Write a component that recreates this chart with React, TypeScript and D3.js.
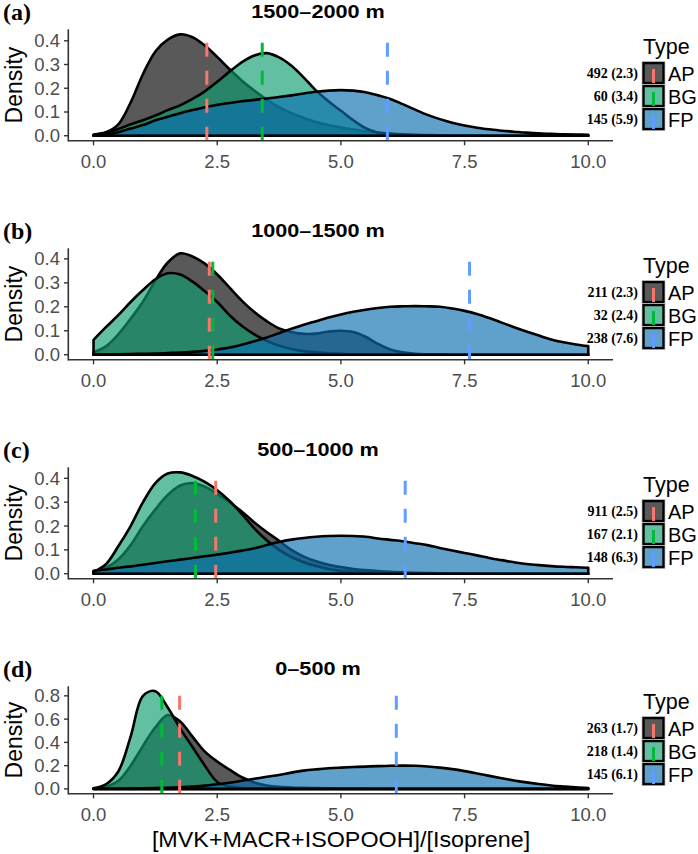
import React from 'react';
import * as d3 from 'd3';

// ---------- data ----------
const X_GRID = [
  0, 0.25, 0.5, 0.75, 1, 1.25, 1.5, 1.75, 2, 2.25, 2.5, 2.75, 3, 3.25, 3.5, 3.75, 4, 4.25, 4.5, 4.75,
  5, 5.25, 5.5, 5.75, 6, 6.25, 6.5, 6.75, 7, 7.25, 7.5, 7.75, 8, 8.25, 8.5, 8.75, 9, 9.25, 9.5, 9.75, 10,
];

const TYPES = ['AP', 'BG', 'FP'];
const PANEL_TAGS = ['(a)', '(b)', '(c)', '(d)'];
const PANEL_TITLES = ['1500–2000 m', '1000–1500 m', '500–1000 m', '0–500 m'];
const X_TICKS = [0, 2.5, 5, 7.5, 10];
const Y_TICKS_SMALL = [0, 0.1, 0.2, 0.3, 0.4];
const Y_TICKS_LARGE = [0, 0.2, 0.4, 0.6, 0.8];
const X_TITLE = '[MVK+MACR+ISOPOOH]/[Isoprene]';
const Y_TITLE = 'Density';
const LEGEND_TITLE = 'Type';

const COUNTS_A = [492, 60, 145];
const COUNTS_B = [211, 32, 238];
const COUNTS_C = [911, 167, 148];
const COUNTS_D = [263, 218, 145];

const MEANS_A = [2.29, 3.41, 5.94];
const MEANS_B = [2.34, 2.41, 7.6];
const MEANS_C = [2.47, 2.06, 6.3];
const MEANS_D = [1.74, 1.38, 6.12];

// density values on X_GRID
const AP_A = [0.005, 0.015, 0.048, 0.14, 0.26, 0.355, 0.405, 0.427, 0.415, 0.38, 0.332, 0.28, 0.232, 0.19, 0.152, 0.12, 0.095, 0.075, 0.058, 0.045, 0.035, 0.026, 0.019, 0.013, 0.009, 0.006, 0.004, 0.003, 0.002, 0.001, 0.001, 0.001, 0, 0, 0, 0, 0, 0, 0, 0, 0];
const BG_A = [0.003, 0.012, 0.028, 0.048, 0.065, 0.085, 0.108, 0.128, 0.155, 0.187, 0.227, 0.27, 0.31, 0.338, 0.348, 0.33, 0.295, 0.245, 0.19, 0.145, 0.105, 0.065, 0.032, 0.013, 0.005, 0.002, 0.001, 0, 0, 0, 0, 0, 0, 0, 0, 0, 0, 0, 0, 0, 0];
const FP_A = [0.002, 0.006, 0.015, 0.03, 0.045, 0.065, 0.08, 0.095, 0.108, 0.12, 0.13, 0.138, 0.145, 0.151, 0.157, 0.163, 0.17, 0.178, 0.185, 0.19, 0.192, 0.19, 0.183, 0.17, 0.155, 0.133, 0.11, 0.088, 0.07, 0.055, 0.043, 0.034, 0.027, 0.021, 0.017, 0.013, 0.01, 0.008, 0.006, 0.005, 0.004];

const AP_B = [0.01, 0.035, 0.085, 0.15, 0.222, 0.31, 0.385, 0.423, 0.41, 0.38, 0.335, 0.28, 0.225, 0.178, 0.14, 0.11, 0.095, 0.087, 0.088, 0.097, 0.1, 0.095, 0.075, 0.045, 0.022, 0.01, 0.004, 0.002, 0.001, 0, 0, 0, 0, 0, 0, 0, 0, 0, 0, 0, 0];
const BG_B = [0.062, 0.115, 0.165, 0.22, 0.27, 0.315, 0.34, 0.335, 0.305, 0.265, 0.22, 0.165, 0.12, 0.085, 0.058, 0.038, 0.024, 0.015, 0.01, 0.006, 0.004, 0.002, 0.001, 0, 0, 0, 0, 0, 0, 0, 0, 0, 0, 0, 0, 0, 0, 0, 0, 0, 0];
const FP_B = [0, 0.001, 0.002, 0.003, 0.004, 0.005, 0.007, 0.009, 0.012, 0.016, 0.022, 0.03, 0.042, 0.056, 0.072, 0.09, 0.108, 0.125, 0.14, 0.155, 0.168, 0.179, 0.188, 0.195, 0.2, 0.202, 0.203, 0.202, 0.2, 0.193, 0.183, 0.17, 0.153, 0.134, 0.115, 0.097, 0.08, 0.064, 0.052, 0.043, 0.036];

const AP_C = [0.01, 0.025, 0.06, 0.12, 0.2, 0.27, 0.33, 0.37, 0.38, 0.365, 0.335, 0.3, 0.26, 0.215, 0.175, 0.138, 0.1, 0.072, 0.052, 0.038, 0.028, 0.02, 0.015, 0.011, 0.008, 0.006, 0.004, 0.003, 0.002, 0.001, 0, 0, 0, 0, 0, 0, 0, 0, 0, 0, 0];
const BG_C = [0.008, 0.04, 0.115, 0.2, 0.3, 0.38, 0.42, 0.425, 0.41, 0.385, 0.35, 0.305, 0.25, 0.19, 0.14, 0.1, 0.07, 0.048, 0.032, 0.02, 0.012, 0.008, 0.005, 0.003, 0.002, 0.001, 0, 0, 0, 0, 0, 0, 0, 0, 0, 0, 0, 0, 0, 0, 0];
const FP_C = [0.012, 0.018, 0.025, 0.031, 0.038, 0.045, 0.052, 0.059, 0.066, 0.073, 0.08, 0.088, 0.097, 0.107, 0.12, 0.133, 0.143, 0.15, 0.155, 0.158, 0.159, 0.158, 0.155, 0.148, 0.142, 0.136, 0.128, 0.12, 0.108, 0.097, 0.087, 0.077, 0.066, 0.057, 0.048, 0.041, 0.036, 0.032, 0.029, 0.027, 0.025];

const AP_D = [0.005, 0.02, 0.07, 0.2, 0.37, 0.53, 0.635, 0.58, 0.45, 0.32, 0.235, 0.165, 0.1, 0.055, 0.03, 0.018, 0.012, 0.009, 0.007, 0.005, 0.004, 0.003, 0.002, 0.001, 0, 0, 0, 0, 0, 0, 0, 0, 0, 0, 0, 0, 0, 0, 0, 0, 0];
const BG_D = [0.005, 0.04, 0.15, 0.45, 0.8, 0.84, 0.7, 0.52, 0.36, 0.2, 0.06, 0.02, 0.008, 0.003, 0.001, 0, 0, 0, 0, 0, 0, 0, 0, 0, 0, 0, 0, 0, 0, 0, 0, 0, 0, 0, 0, 0, 0, 0, 0, 0, 0];
const FP_D = [0, 0.001, 0.002, 0.003, 0.005, 0.007, 0.01, 0.014, 0.02, 0.028, 0.04, 0.053, 0.07, 0.087, 0.104, 0.12, 0.14, 0.157, 0.168, 0.177, 0.183, 0.188, 0.192, 0.196, 0.199, 0.2, 0.199, 0.193, 0.183, 0.17, 0.153, 0.133, 0.112, 0.092, 0.073, 0.056, 0.042, 0.03, 0.021, 0.013, 0.008];

// ---------- styles ----------
const FILLS = ['#000000', '#0f9d6e', '#0b6fb0'];
const FILL_OPACITY = 0.65;
const LINE_COLORS = ['#F8766D', '#00BA38', '#619CFF'];
const SANS = "'Liberation Sans', Arial, Helvetica, sans-serif";
const SERIF = "'Liberation Serif', 'Times New Roman', serif";

const W = 698;
const H = 854;
const PLOT_X0 = 68.8;
const PLOT_X1 = 613;
const PANEL_TOPS = [29.3, 248.3, 467.3, 686.3];
const PANEL_HEIGHTS = [111.5, 111.5, 111.5, 107.5];

const panels = [
  { series: [AP_A, BG_A, FP_A], means: MEANS_A, counts: COUNTS_A, yTicks: Y_TICKS_SMALL },
  { series: [AP_B, BG_B, FP_B], means: MEANS_B, counts: COUNTS_B, yTicks: Y_TICKS_SMALL },
  { series: [AP_C, BG_C, FP_C], means: MEANS_C, counts: COUNTS_C, yTicks: Y_TICKS_SMALL },
  { series: [AP_D, BG_D, FP_D], means: MEANS_D, counts: COUNTS_D, yTicks: Y_TICKS_LARGE },
];

const x = d3.scaleLinear().domain([-0.5, 10.5]).range([PLOT_X0, PLOT_X1]);

function Panel({ idx }: { idx: number }) {
  const p = panels[idx];
  const top = PANEL_TOPS[idx];
  const h = PANEL_HEIGHTS[idx];
  const bottom = top + h;
  const cy = top + h / 2;
  const maxD = d3.max(p.series.flat()) as number;
  const y = d3.scaleLinear().domain([-0.05 * maxD, 1.05 * maxD]).range([bottom, top]);

  const area = d3
    .area<number>()
    .x((_, i) => x(X_GRID[i]))
    .y0(y(0))
    .y1((d) => y(d))
    .curve(d3.curveCatmullRom.alpha(0.5));

  const keysTop = cy - 23;
  const isLast = idx === panels.length - 1;

  return (
    <g>
      <text x={3} y={top - 9} fontFamily={SERIF} fontWeight="bold" fontSize={24} fill="#000">
        {PANEL_TAGS[idx]}
      </text>
      <text
        transform={`translate(318,${top - 11.5}) scale(1.14,1)`}
        textAnchor="middle"
        fontFamily={SANS}
        fontWeight="bold"
        fontSize={19}
        fill="#000"
      >
        {PANEL_TITLES[idx]}
      </text>
      <text
        transform={`translate(21.5,${cy}) rotate(-90)`}
        textAnchor="middle"
        fontFamily={SANS}
        fontSize={23}
        fill="#000"
      >
        {Y_TITLE}
      </text>

      {p.series.map((s, k) => (
        <path
          key={TYPES[k]}
          d={area(s) as string}
          fill={FILLS[k]}
          fillOpacity={FILL_OPACITY}
          stroke="#000"
          strokeWidth={2.6}
          strokeLinejoin="round"
        />
      ))}

      {p.means.map((m, k) => (
        <line
          key={'m' + k}
          x1={x(m)}
          x2={x(m)}
          y1={bottom}
          y2={top}
          stroke={LINE_COLORS[k]}
          strokeWidth={3}
          strokeDasharray="14 14"
        />
      ))}

      <line x1={PLOT_X0} x2={PLOT_X1} y1={bottom} y2={bottom} stroke="#333" strokeWidth={1.6} />
      <line x1={PLOT_X0 - 0.5} x2={PLOT_X0 - 0.5} y1={top} y2={bottom + 0.8} stroke="#333" strokeWidth={1.6} />
      {X_TICKS.map((t) => (
        <g key={'xt' + t}>
          <line x1={x(t)} x2={x(t)} y1={bottom} y2={bottom + 4.5} stroke="#333" strokeWidth={1.4} />
          <text x={x(t)} y={bottom + 27} textAnchor="middle" fontFamily={SANS} fontSize={18.5} fill="#4d4d4d">
            {t.toFixed(1)}
          </text>
        </g>
      ))}
      {p.yTicks.map((t) => (
        <g key={'yt' + t}>
          <line x1={PLOT_X0 - 4.8} x2={PLOT_X0 - 0.5} y1={y(t)} y2={y(t)} stroke="#333" strokeWidth={1.4} />
          <text x={60} y={y(t) + 6.5} textAnchor="end" fontFamily={SANS} fontSize={18.5} fill="#4d4d4d">
            {t.toFixed(1)}
          </text>
        </g>
      ))}

      <text x={643} y={keysTop - 8} fontFamily={SANS} fontSize={21.5} fill="#000">
        {LEGEND_TITLE}
      </text>
      {TYPES.map((t, k) => {
        const ky = keysTop + 23 * k;
        return (
          <g key={'lg' + t}>
            <rect x={642} y={ky - 0.5} width={23} height={23} fill="none" stroke="#cfcfcf" strokeWidth={1} />
            <rect x={643.5} y={ky + 1} width={20} height={20} fill="#fff" />
            <rect
              x={643.5}
              y={ky + 1}
              width={20}
              height={20}
              fill={FILLS[k]}
              fillOpacity={FILL_OPACITY}
              stroke="#000"
              strokeWidth={2.4}
            />
            <line x1={653.5} x2={653.5} y1={ky + 21} y2={ky + 7} stroke={LINE_COLORS[k]} strokeWidth={3} />
            <text x={668} y={ky + 18.5} fontFamily={SANS} fontSize={20} fill="#000">
              {t}
            </text>
            <text x={638} y={ky + 15.5} textAnchor="end" fontFamily={SERIF} fontWeight="bold" fontSize={14} fill="#000">
              {`${p.counts[k]} (${p.means[k].toFixed(1)})`}
            </text>
          </g>
        );
      })}

      {isLast && (
        <text
          transform={`translate(341,847) scale(1.06,1)`}
          textAnchor="middle"
          fontFamily={SANS}
          fontSize={22}
          fill="#000"
        >
          {X_TITLE}
        </text>
      )}
    </g>
  );
}

export default function App() {
  return (
    <svg
      width={W}
      height={H}
      viewBox={`0 0 ${W} ${H}`}
      style={{ position: 'absolute', left: 0, top: 0, background: '#fff' }}
    >
      <rect x={0} y={0} width={W} height={H} fill="#fff" />
      {panels.map((_, i) => (
        <Panel key={i} idx={i} />
      ))}
    </svg>
  );
}
